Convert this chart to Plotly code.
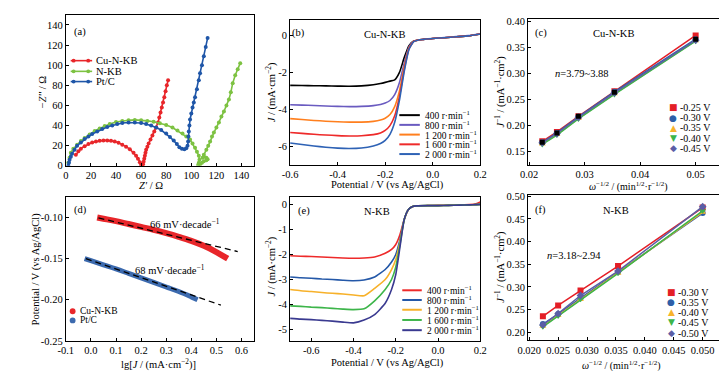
import plotly.graph_objects as go

W, H = 727, 371
FONT = "Liberation Serif"
SYM = "DejaVu Sans"

def px(x):
    return x / W

def py(y):
    return 1 - y / H

# ---------------- (a) Nyquist ----------------
cu_zr = [8, 10, 12, 15, 18, 21, 24, 27, 30, 33, 36, 39, 42, 45, 48, 51, 54, 56, 57.5, 59, 60, 61,
         61.5, 62, 62.5, 63, 63.5, 64, 65, 66, 67.5, 69, 70.5, 72, 73.5, 74.5, 75.5, 76.5, 77.5,
         78.5, 79.5, 80.5, 81.5]
cu_zi = [11, 14.5, 17, 19.5, 21.5, 23, 24, 24.8, 25.2, 25.2, 24.8, 24, 22.8, 21, 19, 16.5, 13, 10,
         7, 3.5, 1, 0, 1.5, 4, 7, 10, 13, 16, 19, 22, 26, 30, 34, 38, 43, 48, 53, 58, 63, 68, 74, 80, 85]
nkb_zr = [2, 3, 4, 6, 9, 12, 15, 19, 23, 27, 31, 35, 40, 45, 50, 55, 60, 65, 70, 75, 80, 85, 89, 93,
          96, 99, 101, 103, 104.5, 106, 106.5, 106, 105.5, 107, 108.5, 110, 112, 113, 112, 110, 109,
          110, 112, 113.5, 115, 116.5, 118, 120, 122, 124, 126, 128, 130, 131.5, 133, 135, 137, 139]
nkb_zi = [3, 8, 13, 17, 21, 24.5, 27.5, 31, 34.5, 37, 39.5, 41.5, 43.5, 44.5, 45.3, 45.6, 45.3, 44.6,
          43.8, 42.3, 40.5, 38, 35, 32, 29, 26, 22, 18, 14, 10, 6, 3, 1, 1.5, 3, 4.5, 5.5, 6.5, 8, 9,
          8, 11, 16, 20, 24, 29, 33, 38, 43, 49, 54, 60, 66, 73, 82, 90, 96, 102]
pt_zr = [2, 2.5, 3, 4, 5, 7, 9, 12, 15, 18, 21, 25, 29, 33, 37, 41, 45, 50, 55, 60, 64, 68, 72, 76,
         80, 83, 86, 88.5, 90.5, 92.5, 94.5, 96, 97, 97.5, 97.7, 98, 98.5, 99, 100, 101, 102, 103,
         104.5, 106, 107, 108.5, 110, 111.5, 113]
pt_zi = [0, 3, 6, 9, 12, 16, 20, 23, 26.5, 29, 31.5, 34, 36.5, 38.5, 40, 41.5, 42.5, 43, 43, 42.5,
         41.5, 40, 38, 35.5, 32, 28.5, 25, 21.5, 18.5, 17, 16.5, 17.5, 20, 24, 29, 34, 40, 46, 52,
         58, 63, 68, 76, 85, 92, 100, 109, 118, 127]

# ---------------- (b) LSV Cu-N-KB ----------------
b_x = [-0.6, -0.55, -0.5, -0.45, -0.4, -0.35, -0.3, -0.25, -0.22, -0.2, -0.18, -0.16, -0.14, -0.12,
       -0.1, -0.08, -0.06, -0.04, 0.0, 0.05, 0.1, 0.15, 0.2]
b_400 = [-2.70, -2.71, -2.72, -2.73, -2.74, -2.75, -2.73, -2.67, -2.60, -2.54, -2.47, -2.40, -2.0,
         -1.2, -0.55, -0.30, -0.24, -0.21, -0.16, -0.12, -0.07, -0.02, 0.08]
b_800 = [-3.75, -3.77, -3.79, -3.82, -3.84, -3.85, -3.84, -3.80, -3.74, -3.66, -3.52, -3.20, -2.55,
         -1.5, -0.62, -0.31, -0.24, -0.21, -0.16, -0.11, -0.06, -0.01, 0.09]
b_1200 = [-4.50, -4.55, -4.60, -4.64, -4.67, -4.69, -4.69, -4.65, -4.58, -4.48, -4.28, -3.85, -3.0,
          -1.7, -0.68, -0.32, -0.24, -0.21, -0.16, -0.12, -0.07, -0.02, 0.08]
b_1600 = [-5.25, -5.30, -5.35, -5.39, -5.42, -5.44, -5.43, -5.37, -5.28, -5.14, -4.88, -4.35, -3.3,
          -1.85, -0.72, -0.32, -0.24, -0.21, -0.16, -0.12, -0.07, -0.02, 0.08]
b_2000 = [-5.82, -5.90, -5.98, -6.05, -6.10, -6.12, -6.09, -5.98, -5.85, -5.68, -5.35, -4.70, -3.5,
          -1.95, -0.75, -0.33, -0.24, -0.21, -0.16, -0.12, -0.07, -0.02, 0.08]

# ---------------- (c) K-L Cu-N-KB ----------------
kl_x = [0.02236, 0.025, 0.02887, 0.03536, 0.05]
c_025 = [0.170, 0.188, 0.218, 0.266, 0.373]
c_030 = [0.168, 0.186, 0.217, 0.265, 0.366]
c_035 = [0.165, 0.183, 0.214, 0.261, 0.363]
c_040 = [0.164, 0.182, 0.213, 0.260, 0.362]
c_045 = [0.167, 0.185, 0.216, 0.263, 0.364]
c_blk = [0.168, 0.186, 0.218, 0.264, 0.366]

# ---------------- (d) Tafel ----------------
d_cu_x = [0.025, 0.05, 0.1, 0.15, 0.2, 0.25, 0.3, 0.35, 0.4, 0.45, 0.5, 0.545]
d_cu_y = [-0.100, -0.1015, -0.1045, -0.108, -0.1115, -0.115, -0.119, -0.1235, -0.1285, -0.1345,
          -0.142, -0.150]
d_pt_x = [-0.025, 0.0, 0.05, 0.1, 0.15, 0.2, 0.25, 0.3, 0.35, 0.4, 0.425]
d_pt_y = [-0.150, -0.1525, -0.1575, -0.1625, -0.168, -0.1735, -0.179, -0.1845, -0.190, -0.1965,
          -0.200]
d_cu_fit_x = [0.03, 0.585]
d_cu_fit_y = [-0.1005, -0.1414]
d_pt_fit_x = [-0.02, 0.518]
d_pt_fit_y = [-0.1500, -0.2066]

# ---------------- (e) LSV N-KB ----------------
e_x = [-0.7, -0.65, -0.6, -0.55, -0.5, -0.45, -0.4, -0.35, -0.3, -0.25, -0.22, -0.2, -0.18, -0.16,
       -0.14, -0.12, -0.1, -0.05, 0.0, 0.05, 0.1, 0.15, 0.18, 0.2]
e_400 = [-2.05, -2.07, -2.08, -2.10, -2.12, -2.14, -2.15, -2.14, -2.10, -1.95, -1.80, -1.60, -1.20,
         -0.60, -0.20, -0.08, -0.06, -0.05, -0.04, -0.03, -0.02, -0.01, 0.02, 0.10]
e_800 = [-2.90, -2.93, -2.95, -2.98, -3.00, -3.03, -3.05, -3.02, -2.90, -2.60, -2.30, -2.00, -1.40,
         -0.60, -0.20, -0.08, -0.06, -0.05, -0.05, -0.04, -0.03, -0.02, -0.01, 0.00]
e_1200 = [-3.40, -3.45, -3.48, -3.52, -3.55, -3.58, -3.62, -3.65, -3.35, -3.00, -2.60, -2.20, -1.50,
          -0.60, -0.20, -0.08, -0.06, -0.05, -0.05, -0.04, -0.03, -0.02, -0.01, 0.00]
e_1600 = [-4.05, -4.07, -4.10, -4.12, -4.15, -4.18, -4.20, -4.17, -3.85, -3.40, -3.00, -2.50, -1.60,
          -0.60, -0.20, -0.08, -0.06, -0.05, -0.05, -0.04, -0.03, -0.02, -0.01, 0.00]
e_2000 = [-4.55, -4.58, -4.60, -4.63, -4.66, -4.70, -4.73, -4.62, -4.40, -3.95, -3.40, -2.80, -1.70,
          -0.60, -0.20, -0.08, -0.06, -0.05, -0.05, -0.04, -0.03, -0.02, -0.01, 0.00]

# ---------------- (f) K-L N-KB ----------------
f_030 = [0.235, 0.259, 0.292, 0.346, 0.475]
f_035 = [0.218, 0.240, 0.275, 0.333, 0.463]
f_040 = [0.213, 0.237, 0.272, 0.330, 0.465]
f_045 = [0.212, 0.236, 0.273, 0.330, 0.468]
f_050 = [0.216, 0.241, 0.281, 0.335, 0.477]

rpm_labels = ["400 r·min<sup>−1</sup>", "800 r·min<sup>−1</sup>", "1 200 r·min<sup>−1</sup>",
              "1 600 r·min<sup>−1</sup>", "2 000 r·min<sup>−1</sup>"]
c_labels = ["-0.25 V", "-0.30 V", "-0.35 V", "-0.40 V", "-0.45 V"]
f_labels = ["-0.30 V", "-0.35 V", "-0.40 V", "-0.45 V", "-0.50 V"]

RED, GRN, BLU = "#E8262A", "#7DC242", "#1F56A8"
b_cols = ["#000000", "#6A5BC0", "#FF7F1E", "#EE2A2A", "#2E62B5"]
e_cols = ["#EE2A2A", "#2458A8", "#F7B12A", "#3DB54A", "#3A3A90"]
kl_cols = ["#E41E26", "#2E5FA8", "#F8B32B", "#3CB54A", "#5B5EA6"]
kl_syms = ["square", "circle", "triangle-up", "triangle-down", "diamond"]
kl_glyph = ["■", "●", "▲", "▼", "◆"]

fig = go.Figure()

# (a)
for xs, ys, c, n in [(cu_zr, cu_zi, RED, "Cu-N-KB"), (nkb_zr, nkb_zi, GRN, "N-KB"), (pt_zr, pt_zi, BLU, "Pt/C")]:
    fig.add_trace(go.Scatter(x=xs, y=ys, mode="lines+markers", name=n, showlegend=False,
                             line=dict(color=c, width=1.6), marker=dict(color=c, size=4),
                             xaxis="x", yaxis="y"))
# (b)
for ys, c, n in zip([b_400, b_800, b_1200, b_1600, b_2000], b_cols, rpm_labels):
    fig.add_trace(go.Scatter(x=b_x, y=ys, mode="lines", name=n, showlegend=False,
                             line=dict(color=c, width=1.6, shape="spline", smoothing=0.5),
                             xaxis="x2", yaxis="y2"))
# (c)
for ys, c, s, n in zip([c_025, c_030, c_035, c_040, c_045], kl_cols, kl_syms, c_labels):
    fig.add_trace(go.Scatter(x=kl_x, y=ys, mode="lines+markers", name=n, showlegend=False,
                             line=dict(color=c, width=1.5), marker=dict(color=c, size=6, symbol=s),
                             xaxis="x3", yaxis="y3"))
fig.add_trace(go.Scatter(x=kl_x, y=c_blk, mode="markers", showlegend=False,
                         marker=dict(color="black", size=5, symbol="square"), xaxis="x3", yaxis="y3"))
# (d)
fig.add_trace(go.Scatter(x=d_cu_x, y=d_cu_y, mode="lines", showlegend=False,
                         line=dict(color=RED, width=6, shape="spline"), xaxis="x4", yaxis="y4"))
fig.add_trace(go.Scatter(x=d_pt_x, y=d_pt_y, mode="lines", showlegend=False,
                         line=dict(color="#3C6AAE", width=5, shape="spline"), xaxis="x4", yaxis="y4"))
for fx, fy in [(d_cu_fit_x, d_cu_fit_y), (d_pt_fit_x, d_pt_fit_y)]:
    fig.add_trace(go.Scatter(x=fx, y=fy, mode="lines", showlegend=False,
                             line=dict(color="black", width=1.3, dash="6px,4px"), xaxis="x4", yaxis="y4"))
# (e)
for ys, c, n in zip([e_400, e_800, e_1200, e_1600, e_2000], e_cols, rpm_labels):
    fig.add_trace(go.Scatter(x=e_x, y=ys, mode="lines", name=n, showlegend=False,
                             line=dict(color=c, width=1.6, shape="spline", smoothing=0.5),
                             xaxis="x5", yaxis="y5"))
# (f)
for ys, c, s, n in zip([f_030, f_035, f_040, f_045, f_050], kl_cols, kl_syms, f_labels):
    fig.add_trace(go.Scatter(x=kl_x, y=ys, mode="lines+markers", name=n, showlegend=False,
                             line=dict(color=c, width=1.5), marker=dict(color=c, size=6, symbol=s),
                             xaxis="x6", yaxis="y6"))

TF = dict(family=FONT, size=10.5, color="black")

def axis(dom, rng, vals, texts, anchor):
    return dict(domain=dom, range=rng, tickvals=vals, ticktext=texts, anchor=anchor,
                showline=True, linecolor="black", linewidth=1, mirror=True,
                ticks="inside", ticklen=3, tickcolor="black", tickwidth=1,
                showgrid=False, zeroline=False, tickfont=TF)

XA = [px(48), px(241)]
XB = [px(278), px(473)]
XC = [px(522), px(720)]
YT = [py(158), py(3)]
YTB = [py(157), py(8)]
YTC = [py(157), py(7)]
YD = [py(338), py(190)]
YF = [py(337), py(188)]

layout = dict(
    width=W, height=H, margin=dict(l=0, r=0, t=0, b=0),
    paper_bgcolor="white", plot_bgcolor="white", showlegend=False,
    font=dict(family=FONT, size=10.5, color="black"),
    xaxis=axis(XA, [0, 150], list(range(0, 141, 20)), [str(v) for v in range(0, 141, 20)], "y"),
    yaxis=axis(YT, [0, 150], list(range(0, 141, 20)), [str(v) for v in range(0, 141, 20)], "x"),
    xaxis2=axis(XB, [-0.6, 0.2], [-0.6, -0.4, -0.2, 0.0, 0.2], ["-0.6", "-0.4", "-0.2", "0.0", "0.2"], "y2"),
    yaxis2=axis(YTB, [-7, 0.85], [0, -2, -4, -6], ["0", "-2", "-4", "-6"], "x2"),
    xaxis3=axis(XC, [0.0198, 0.0546], [0.02, 0.03, 0.04, 0.05], ["0.02", "0.03", "0.04", "0.05"], "y3"),
    yaxis3=axis(YTC, [0.125, 0.405], [0.15, 0.20, 0.25, 0.30, 0.35, 0.40],
                ["0.15", "0.20", "0.25", "0.30", "0.35", "0.40"], "x3"),
    xaxis4=axis(XA, [-0.1, 0.65], [-0.1, 0, 0.1, 0.2, 0.3, 0.4, 0.5, 0.6],
                ["-0.1", "0.0", "0.1", "0.2", "0.3", "0.4", "0.5", "0.6"], "y4"),
    yaxis4=axis(YD, [-0.25, -0.075], [-0.10, -0.15, -0.20, -0.25], ["-0.10", "-0.15", "-0.20", "-0.25"], "x4"),
    xaxis5=axis(XB, [-0.7, 0.2], [-0.6, -0.4, -0.2, 0.0, 0.2], ["-0.6", "-0.4", "-0.2", "0.0", "0.2"], "y5"),
    yaxis5=axis(YD, [-5.45, 0.3], [0, -1, -2, -3, -4, -5], ["0", "-1", "-2", "-3", "-4", "-5"], "x5"),
    xaxis6=axis(XC, [0.0198, 0.0532], [0.020, 0.025, 0.030, 0.035, 0.040, 0.045, 0.050],
                ["0.020", "0.025", "0.030", "0.035", "0.040", "0.045", "0.050"], "y6"),
    yaxis6=axis(YF, [0.183, 0.503], [0.20, 0.25, 0.30, 0.35, 0.40, 0.45, 0.50],
                ["0.20", "0.25", "0.30", "0.35", "0.40", "0.45", "0.50"], "x6"),
)
fig.update_layout(**layout)

ann = []
shapes = []

def text(x, y, t, size=10.5, xanchor="center", angle=0, family=FONT, color="black"):
    ann.append(dict(x=px(x), y=py(y), xref="paper", yref="paper", text=t, showarrow=False,
                    xanchor=xanchor, yanchor="middle", textangle=angle,
                    font=dict(family=family, size=size, color=color)))

# panel labels & titles
text(63, 21, "(a)")
text(287, 22, "(b)"); text(375, 23, "Cu-N-KB")
text(535, 22, "(c)"); text(610, 22, "Cu-N-KB"); text(577, 63, "<i>n</i>=3.79~3.88")
text(63, 203, "(d)")
text(170, 217, "66 mV·decade<sup>−1</sup>")
text(155, 265, "68 mV·decade<sup>−1</sup>")
text(292, 204, "(e)"); text(367, 205, "N-KB")
text(535, 203, "(f)"); text(612, 204, "N-KB"); text(569, 250, "<i>n</i>=3.18~2.94")

# axis titles
text(135, 178, "<i>Z'</i> / Ω")
text(24, 82, "−<i>Z''</i> / Ω", angle=-90)
text(378, 178, "Potential / V (vs Ag/AgCl)")
text(258, 83, "<i>J</i> / (mA·cm<sup>−2</sup>)", angle=-90)
text(625, 179.5, "<i>ω</i><sup>−1/2</sup> / (min<sup>1/2</sup>·r<sup>−1/2</sup>)", size=10)
text(493, 82, "<i>J</i><sup>−1</sup> / (mA<sup>−1</sup>·cm<sup>2</sup>)", angle=-90)
text(143, 362, "lg[<i>J</i> / (mA·cm<sup>−2</sup>)]")
text(17, 264, "Potential / V (vs Ag/AgCl)", angle=-90)
text(378, 361, "Potential / V (vs Ag/AgCl)")
text(258, 262, "<i>J</i> / (mA·cm<sup>−2</sup>)", angle=-90)
text(618, 363, "<i>ω</i><sup>−1/2</sup> / (min<sup>1/2</sup>·r<sup>−1/2</sup>)", size=10)
text(493, 262, "<i>J</i><sup>−1</sup> / (mA<sup>−1</sup>·cm<sup>2</sup>)", angle=-90)

# legend (a)
for yy, c, n in [(50, RED, "Cu-N-KB"), (61, GRN, "N-KB"), (71.5, BLU, "Pt/C")]:
    shapes.append(dict(type="line", xref="paper", yref="paper", x0=px(53), x1=px(75), y0=py(yy), y1=py(yy),
                       line=dict(color=c, width=1.6)))
    for mx in (56, 71):
        shapes.append(dict(type="circle", xref="paper", yref="paper", x0=px(mx - 2), x1=px(mx + 2),
                           y0=py(yy + 2), y1=py(yy - 2), fillcolor=c, line=dict(color=c, width=0)))
    text(77, yy, n, xanchor="left")

# legend (b)
for yy, c, n in zip([106, 116, 126, 136, 146], b_cols, rpm_labels):
    shapes.append(dict(type="line", xref="paper", yref="paper", x0=px(390), x1=px(411), y0=py(yy), y1=py(yy),
                       line=dict(color=c, width=2)))
    text(414, yy, n, xanchor="left", size=9.5)

# legend (e)
for yy, c, n in zip([286, 296, 306, 316.5, 327], e_cols, rpm_labels):
    shapes.append(dict(type="line", xref="paper", yref="paper", x0=px(393), x1=px(413), y0=py(yy), y1=py(yy),
                       line=dict(color=c, width=2)))
    text(416, yy, n, xanchor="left", size=9.5)

# legend (c)
for yy, c, g, n in zip([98, 108.5, 119, 129.5, 140], kl_cols, kl_glyph, c_labels):
    text(671, yy, g, size=9, family=SYM, color=c)
    text(676, yy, n, xanchor="left", size=10)

# legend (f)
for yy, c, g, n in zip([288, 298.5, 308.5, 319, 330], kl_cols, kl_glyph, f_labels):
    text(669, yy, g, size=9, family=SYM, color=c)
    text(674, yy, n, xanchor="left", size=10)

# legend (d)
for yy, c, n in [(307.5, RED, "Cu-N-KB"), (317, "#3C6AAE", "Pt/C")]:
    shapes.append(dict(type="circle", xref="paper", yref="paper", x0=px(52), x1=px(58),
                       y0=py(yy + 3), y1=py(yy - 3), fillcolor=c, line=dict(color=c, width=0)))
    text(61, yy, n, xanchor="left", size=9.5)

fig.update_layout(annotations=ann, shapes=shapes)
fig.write_html("out.html")
